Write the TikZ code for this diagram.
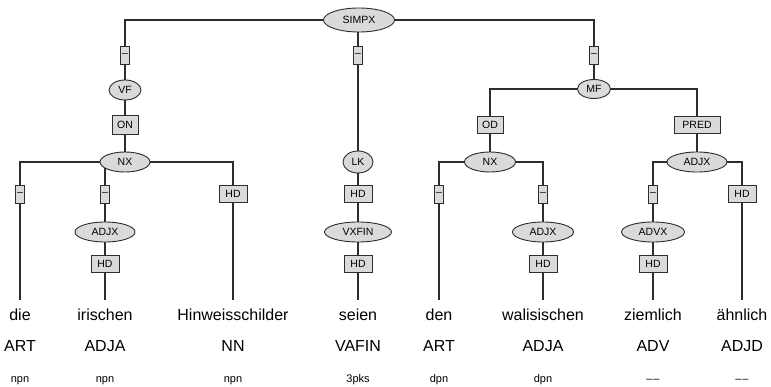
\documentclass[tikz,border=0pt]{standalone}
\usepackage{fontspec}
\setmainfont{Liberation Sans}
\usetikzlibrary{shapes.geometric,backgrounds}
\definecolor{fillg}{RGB}{218,218,218}
\definecolor{lineg}{RGB}{45,45,45}
\tikzset{
  ell/.style={ellipse,draw=lineg,line width=0.9pt,fill=fillg,inner sep=0pt,minimum height=20pt,font=\fontsize{10.5}{12}\selectfont},
  lab/.style={rectangle,draw=lineg,line width=0.9pt,fill=fillg,inner sep=2pt,minimum height=17pt,minimum width=28pt,font=\fontsize{10.5}{12}\selectfont},
  dbox/.style={rectangle,draw=lineg,line width=0.9pt,fill=fillg,inner sep=1pt,minimum height=18pt,minimum width=9pt,font=\fontsize{10.5}{12}\selectfont},
  word/.style={anchor=base,inner xsep=0pt,inner ysep=8pt,text height=12pt,text depth=4pt,font=\fontsize{16}{19}\selectfont},
  postag/.style={anchor=base,inner sep=0pt,font=\fontsize{16}{19}\selectfont},
  morph/.style={anchor=base,inner sep=0pt,font=\fontsize{11}{13}\selectfont},
  conn/.style={draw=lineg,line width=1.2pt}
}
\begin{document}
\begin{tikzpicture}[x=1pt,y=-1pt]
\useasboundingbox (0,0) rectangle (771,387);
% top level
\node[ell,minimum width=71pt,minimum height=24pt] (simpx) at (359,20) {SIMPX};
\node[dbox] (d1) at (125,55) {–};
\node[ell,minimum width=32pt] (vf) at (125,90) {VF};
\node[lab,minimum width=26pt,minimum height=19pt] (on) at (125,125) {ON};
\node[ell,minimum width=50pt] (nx1) at (125,162) {NX};
\node[dbox] (d2) at (20,194) {–};
\node[dbox] (d3) at (105,194) {–};
\node[lab] (hd2) at (233,194) {HD};
\node[ell,minimum width=60pt] (adjx1) at (105,232) {ADJX};
\node[lab] (hd1) at (105,264) {HD};
% LK branch
\node[dbox] (d4) at (358,55) {–};
\node[ell,minimum width=30pt,minimum height=22pt] (lk) at (358,162) {LK};
\node[lab] (hd3) at (358,194) {HD};
\node[ell,minimum width=67pt] (vxfin) at (358,232) {VXFIN};
\node[lab] (hd4) at (358,264) {HD};
% MF branch
\node[dbox] (d5) at (594,55) {–};
\node[ell,minimum width=33pt,minimum height=19pt] (mf) at (594,89) {MF};
\node[lab,minimum width=26pt] (od) at (490,125) {OD};
\node[lab,minimum width=46pt] (pred) at (697,125) {PRED};
\node[ell,minimum width=51pt] (nx2) at (490,162) {NX};
\node[ell,minimum width=60pt] (adjx3) at (697,162) {ADJX};
\node[dbox] (d6) at (439,194) {–};
\node[dbox] (d7) at (543,194) {–};
\node[dbox] (d8) at (653,194) {–};
\node[lab] (hd7) at (742,194) {HD};
\node[ell,minimum width=61pt] (adjx2) at (543,232) {ADJX};
\node[ell,minimum width=63pt] (advx) at (653,232) {ADVX};
\node[lab] (hd5) at (543,264) {HD};
\node[lab] (hd6) at (653,264) {HD};
% words
\node[word] (w1) at (20,320) {die};
\node[word] (w2) at (105,320) {irischen};
\node[word] (w3) at (233,320) {Hinweisschilder};
\node[word] (w4) at (358,320) {seien};
\node[word] (w5) at (439,320) {den};
\node[word] (w6) at (543,320) {walisischen};
\node[word] (w7) at (653,320) {ziemlich};
\node[word] (w8) at (742,320) {ähnlich};
% POS
\node[postag] (p1) at (20,352) {ART};
\node[postag] (p2) at (105,352) {ADJA};
\node[postag] (p3) at (233,352) {NN};
\node[postag] (p4) at (358,352) {VAFIN};
\node[postag] (p5) at (439,352) {ART};
\node[postag] (p6) at (543,352) {ADJA};
\node[postag] (p7) at (653,352) {ADV};
\node[postag] (p8) at (742,352) {ADJD};
% morphology
\node[morph] (m1) at (20,382) {npn};
\node[morph] (m2) at (105,382) {npn};
\node[morph] (m3) at (233,382) {npn};
\node[morph] (m4) at (358,382) {3pks};
\node[morph] (m5) at (439,382) {dpn};
\node[morph] (m6) at (543,382) {dpn};
\node[morph] (m7) at (653,382) {\textendash\kern1pt\textendash};
\node[morph] (m8) at (742,382) {\textendash\kern1pt\textendash};
% connectors
\begin{pgfonlayer}{background}
\path[conn] (simpx.center) -| (d1.center) -- (vf.center) -- (on.center) -- (nx1.center);
\path[conn] (nx1.center) -| (d2.center) -- (w1.north);
\path[conn] (nx1.center) -| (d3.center) -- (adjx1.center) -- (hd1.center) -- (w2.north);
\path[conn] (nx1.center) -| (hd2.center) -- (w3.north);
\path[conn] (simpx.center) -| (d4.center) -- (lk.center) -- (hd3.center) -- (vxfin.center) -- (hd4.center) -- (w4.north);
\path[conn] (simpx.center) -| (d5.center) -- (mf.center);
\path[conn] (mf.center) -| (od.center) -- (nx2.center);
\path[conn] (mf.center) -| (pred.center) -- (adjx3.center);
\path[conn] (nx2.center) -| (d6.center) -- (w5.north);
\path[conn] (nx2.center) -| (d7.center) -- (adjx2.center) -- (hd5.center) -- (w6.north);
\path[conn] (adjx3.center) -| (d8.center) -- (advx.center) -- (hd6.center) -- (w7.north);
\path[conn] (adjx3.center) -| (hd7.center) -- (w8.north);
\end{pgfonlayer}
\end{tikzpicture}
\end{document}
